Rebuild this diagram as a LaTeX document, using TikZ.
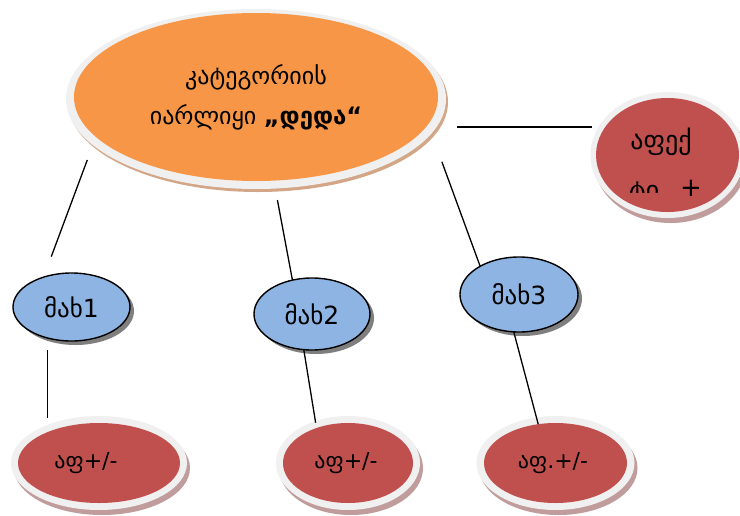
\documentclass[tikz,border=0pt]{standalone}
\usepackage{fontspec}
\setmainfont{DejaVu Sans}
\usetikzlibrary{shapes.geometric}
\definecolor{orangeF}{HTML}{F79646}
\definecolor{redF}{HTML}{C0504D}
\definecolor{blueF}{HTML}{8DB4E2}
\definecolor{ringG}{HTML}{F0F0F0}
\definecolor{tanS}{HTML}{D2A686}
\definecolor{roseS}{HTML}{C09C9C}
\definecolor{grayS}{HTML}{7F7F7F}
\begin{document}
\begin{tikzpicture}[x=1pt,y=-1pt,
  base/.style={ellipse, inner sep=0pt, outer sep=0pt, align=center, text=black},
  mainbox/.style={base, fill=orangeF, font=\fontsize{24}{40}\selectfont},
  redbox/.style={base, fill=redF, font=\fontsize{22}{26}\selectfont},
  bluebox/.style={base, fill=blueF, draw=black, line width=1.4pt, font=\fontsize{25}{28}\selectfont},
  rtxt/.style={inner sep=0pt, anchor=base, font=\fontsize{26}{30}\selectfont},
  conn/.style={draw=black, line width=1.3pt},
  ringfill/.style={fill=ringG},
  redshadow/.style={fill=roseS},
  blueshadow/.style={fill=grayS},
  mainshadow/.style={fill=tanS}
]
\useasboundingbox (0,0) rectangle (740,515);
\fill[white] (0,0) rectangle (740,515);

% ---- shadows and rings ----
\fill[mainshadow] (258,102) ellipse [x radius=190, y radius=90];
\fill[ringfill] (256,99) ellipse [x radius=190, y radius=90];

\begin{scope}
\clip (0,0) rectangle (740,515);
\fill[redshadow] (670.5,160) ellipse [x radius=77, y radius=63];
\fill[ringfill] (667.5,155) ellipse [x radius=77, y radius=63];
\end{scope}

\fill[redshadow] (102,468) ellipse [x radius=88, y radius=47];
\fill[ringfill] (99,463) ellipse [x radius=88, y radius=47];
\fill[redshadow] (351,468) ellipse [x radius=72, y radius=47];
\fill[ringfill] (348,463) ellipse [x radius=72, y radius=47];
\fill[redshadow] (558.5,468) ellipse [x radius=79, y radius=47];
\fill[ringfill] (555.5,463) ellipse [x radius=79, y radius=47];

\fill[blueshadow] (75.5,311) ellipse [x radius=58.5, y radius=34];
\fill[blueshadow] (316,318) ellipse [x radius=58, y radius=36];
\fill[blueshadow] (523,298.5) ellipse [x radius=59, y radius=37.5];

% ---- nodes ----
\node[mainbox, minimum width=364pt, minimum height=168pt] (big) at (256,97)
  {კატეგორიის\\იარლიყი {\bfseries „დედა“}};
\node[base, fill=redF, minimum width=143pt, minimum height=114pt] (r0) at (667.5,155) {};
\node[rtxt] (rtext1) at (661,149) {აფექ};
\begin{scope}
\clip (560,100) rectangle (740,192.5);
\node[rtxt] (rtext2) at (644,199) {ტი};
\end{scope}
\node[rtxt] (rplus) at (691,196) {+};

\node[bluebox, minimum width=117pt, minimum height=68pt] (m1) at (71.5,307) {მახ1};
\node[bluebox, minimum width=116pt, minimum height=72pt] (m2) at (312,314) {მახ2};
\node[bluebox, minimum width=118pt, minimum height=75pt] (m3) at (519,294.5) {მახ3};

\node[redbox, minimum width=162pt, minimum height=80pt] (a1) at (99,463) {\hspace*{-26pt}აფ+/-};
\node[redbox, minimum width=130pt, minimum height=80pt] (a2) at (348,463) {\hspace*{-4pt}აფ+/-};
\node[redbox, minimum width=143pt, minimum height=80pt] (a3) at (555.5,463) {\hspace*{-5pt}აფ.+/-};

% ---- connectors ----
\draw[conn, shorten <=24.6pt, shorten >=21.9pt] (big.194.7) -- (m1.133.9);
\draw[conn, shorten <=19.8pt] (big.282.5) -- (m2.120.5);
\draw[conn, shorten <=39.9pt] (big.351.2) -- (m3.144.5);
\draw[conn, shorten <=31.4pt, shorten >=4.3pt] (big.350.7) -- (r0.west |- big.350.7);
\draw[conn, shorten <=12.1pt, shorten >=13.9pt] (m1.232.9) -- (m1.232.9 |- a1.148.6);
\draw[conn, shorten >=5.4pt] (m2.257.4) -- (a2.132.9);
\draw[conn] (m3.262.4) -- (a3.114.3);
\end{tikzpicture}
\end{document}
